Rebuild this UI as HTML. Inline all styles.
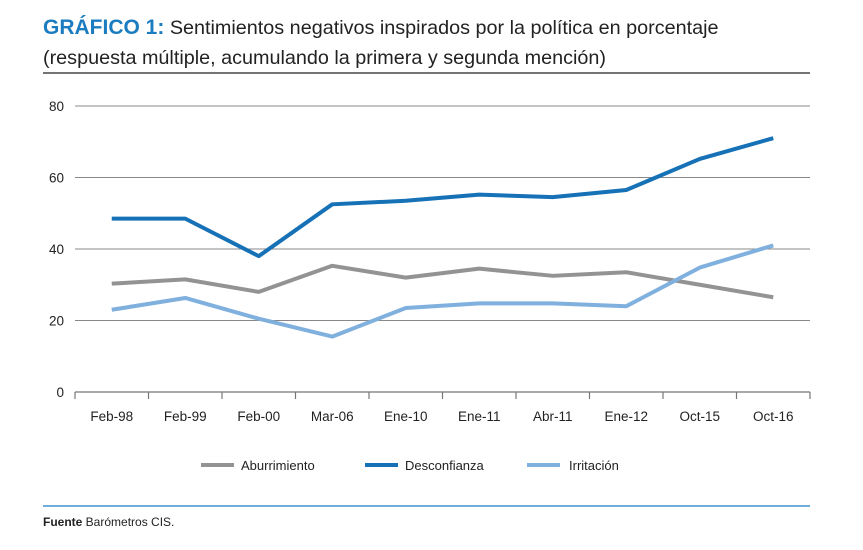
<!DOCTYPE html>
<html><head><meta charset="utf-8"><style>
body{margin:0;background:#fff;width:863px;height:545px;overflow:hidden;font-family:"Liberation Sans",sans-serif}
</style></head><body>
<svg width="863" height="545" xmlns="http://www.w3.org/2000/svg" font-family="Liberation Sans, sans-serif">
<text x="43" y="34" font-size="21"><tspan fill="#1b7cc0" font-weight="bold">GRÁFICO 1:</tspan><tspan fill="#222" font-size="19.8"> Sentimientos negativos inspirados por la política en porcentaje</tspan></text>
<text x="43" y="64" font-size="19.8" fill="#222">(respuesta múltiple, acumulando la primera y segunda mención)</text>
<line x1="43" y1="73" x2="810" y2="73" stroke="#222" stroke-width="1.3"/>
<g id="grid"></g><g id="axes"></g><g id="series"></g>
<g>
<line x1="201" y1="465" x2="234" y2="465" stroke="#939393" stroke-width="4"/>
<text x="241" y="470" font-size="13" fill="#222">Aburrimiento</text>
<line x1="365" y1="465" x2="398" y2="465" stroke="#1671b6" stroke-width="4"/>
<text x="405" y="470" font-size="13" fill="#222">Desconfianza</text>
<line x1="527" y1="465" x2="560" y2="465" stroke="#7fb0de" stroke-width="4"/>
<text x="569" y="470" font-size="13" fill="#222">Irritación</text>
</g>
<line x1="43" y1="506" x2="810" y2="506" stroke="#1b7cc0" stroke-width="1.3"/>
<text x="43" y="526" font-size="12" fill="#222"><tspan font-weight="bold">Fuente</tspan> Barómetros CIS.</text>
</svg>
<script>
const categories=["Feb-98","Feb-99","Feb-00","Mar-06","Ene-10","Ene-11","Abr-11","Ene-12","Oct-15","Oct-16"];
const yTicks=[0,20,40,60,80];
const aburrimiento=[30.3,31.5,28,35.3,32,34.5,32.5,33.5,30,26.5];
const desconfianza=[48.5,48.5,38,52.5,53.5,55.2,54.5,56.5,65.2,71];
const irritacion=[23,26.3,20.5,15.5,23.5,24.8,24.8,24,34.8,41];
const NS="http://www.w3.org/2000/svg";
const L=75,R=810,T=106,B=392,band=(R-L)/categories.length;
const x=i=>L+band*(i+0.5), y=v=>B-(v/80)*(B-T);
function mk(t,a,p){const e=document.createElementNS(NS,t);for(const k in a)e.setAttribute(k,a[k]);document.getElementById(p).appendChild(e);return e;}
yTicks.forEach(v=>{
 if(v>0){const g=mk("line",{x1:L,x2:R,y1:y(v),y2:y(v),stroke:"#888","stroke-width":1},"grid");
 
 }
 const t=mk("text",{x:64,y:y(v)+5,"text-anchor":"end","font-size":13.5,fill:"#222"},"axes");t.textContent=v;
 
 
});
const ax=mk("line",{x1:L,x2:R,y1:B,y2:B,stroke:"#777","stroke-width":1.3},"axes");


for(let i=0;i<=categories.length;i++){const tk=mk("line",{x1:L+band*i,x2:L+band*i,y1:B,y2:B+7,stroke:"#777","stroke-width":1.2},"axes");
 
 }
categories.forEach((c,i)=>{const t=mk("text",{x:x(i),y:B+29,"text-anchor":"middle","font-size":13.5,fill:"#222"},"axes");t.textContent=c;
 
 });
function line(d,col,name){const p=mk("polyline",{points:d.map((v,i)=>x(i)+","+y(v)).join(" "),fill:"none",stroke:col,"stroke-width":4,"stroke-linejoin":"round"},"series");
 
 }
line(aburrimiento,"#939393","line-aburrimiento");
line(irritacion,"#7fb0de","line-irritacion");
line(desconfianza,"#1671b6","line-desconfianza");
</script>
</body></html>
